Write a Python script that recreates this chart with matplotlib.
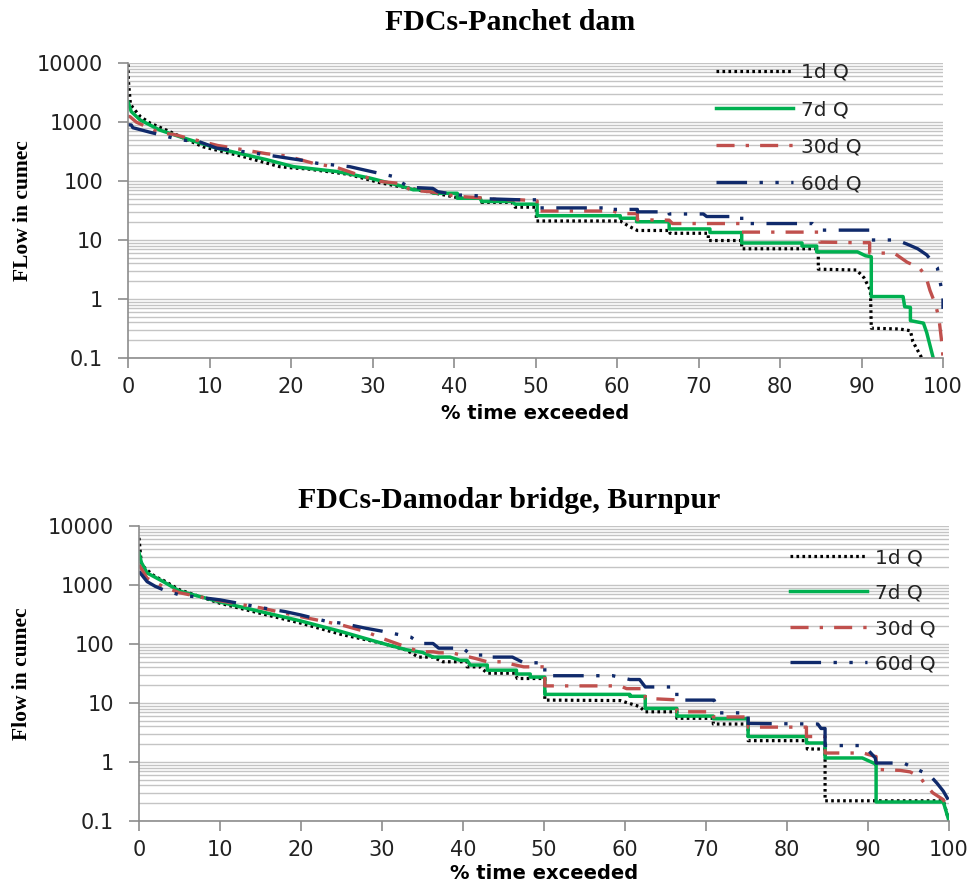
import matplotlib
matplotlib.use('Agg')
import matplotlib.pyplot as plt
from matplotlib import ticker

plt.rcParams['lines.scale_dashes'] = False

# ---------------- data ----------------
series_labels = ['1d Q', '7d Q', '30d Q', '60d Q']
x_ticks = [0, 10, 20, 30, 40, 50, 60, 70, 80, 90, 100]
y_ticks = [0.1, 1, 10, 100, 1000, 10000]
titles = ['FDCs-Panchet dam', 'FDCs-Damodar bridge, Burnpur']
ylabels = ['FLow in cumec', 'Flow in cumec']
xlabel_text = '% time exceeded'

# Panchet dam: (% time exceeded, flow in cumec)
panchet_1d = [(0, 9500), (0.05, 5000), (0.3, 2000), (0.6, 1750), (1.5, 1240), (2.7, 960), (5, 700),
              (7, 520), (9.2, 380), (14.1, 260), (18.6, 175), (20.3, 166), (22, 160), (27, 130),
              (31, 93), (33, 82), (34.6, 75), (37, 65), (40.8, 51), (43.2, 51), (43.4, 43.5),
              (47.1, 43.5), (47.5, 36), (50.1, 36), (50.1, 21), (60.4, 21), (61.5, 17),
              (62.5, 14.5), (66.5, 14.5), (66.5, 13), (71.2, 13), (71.2, 9.8), (75.3, 9.8),
              (75.3, 7.1), (84.7, 7.1), (84.7, 3.2), (89.4, 3.1), (90.3, 2.3), (91.1, 1.4),
              (91.2, 0.32), (94.7, 0.31), (96, 0.29), (96.3, 0.19), (97.4, 0.1)]
panchet_7d = [(0, 2200), (0.4, 1500), (1.5, 1080), (3.9, 730), (6.4, 560), (10.9, 360), (17, 230),
              (20.3, 175), (25.6, 145), (29.7, 112), (33.4, 83), (35, 71), (37, 71), (37.5, 62),
              (40.4, 62), (40.4, 51), (43.2, 51), (43.4, 45), (47.1, 45), (47.5, 40.5),
              (50.2, 40.5), (50.2, 25.8), (60.4, 25.8), (60.4, 23.4), (62.4, 23.4), (62.4, 20.4),
              (66.4, 20.4), (66.4, 15.4), (71.4, 15.4), (71.4, 13.4), (75.3, 13.4), (75.3, 8.9),
              (82.7, 8.9), (82.7, 7.9), (84.5, 7.9), (84.5, 6.3), (89.5, 6.3), (90.5, 5.4),
              (91.2, 5.2), (91.2, 1.1), (95.1, 1.1), (95.3, 0.74), (96, 0.72), (96, 0.43),
              (97.6, 0.39), (98, 0.27), (98.8, 0.1)]
panchet_30d = [(0, 1250), (0.25, 1230), (1, 1000), (3.9, 650), (5.5, 620), (7, 550), (11, 400),
               (12, 380), (17, 290), (19.5, 265), (22.7, 200), (25.6, 170), (28.8, 120), (31, 98),
               (33.7, 90), (34.6, 70), (37, 66), (40.4, 55), (43.2, 52), (45.6, 48), (48.1, 48),
               (50.2, 46), (50.2, 31), (59.5, 31), (60.5, 28), (62.5, 28), (62.5, 22), (66.4, 21.7),
               (66.8, 19), (75.3, 19), (75.3, 13.6), (84.9, 13.6), (84.9, 9.2), (89.8, 9.0),
               (91, 9.0), (91, 6.0), (94, 6.0), (95.6, 4.2), (97.1, 3.4), (97.9, 2.4), (98.4, 1.4),
               (99.1, 0.79), (99.5, 0.47), (99.9, 0.16), (100, 0.1)]
panchet_60d = [(0, 900), (0.4, 890), (0.6, 800), (2.7, 670), (6.4, 500), (8.8, 460), (10.9, 360),
               (15.3, 300), (18.3, 260), (21.3, 225), (23.2, 200), (27.2, 175), (30.3, 140),
               (32.5, 120), (33.5, 95), (34.6, 78), (37.4, 75), (38, 66), (40.4, 58), (43.2, 56),
               (44, 50), (48.1, 48), (50.2, 48), (50.2, 35), (59, 35), (59, 33), (62.5, 33),
               (62.5, 30), (66.4, 30), (66.4, 27.6), (70.6, 27.6), (71, 25), (75.3, 25), (75.3, 19),
               (84, 19), (84.9, 14.7), (91, 14.7), (91, 10), (94.3, 10), (95.6, 8.5), (96.9, 7.1),
               (98, 5.6), (99.3, 3.4), (99.6, 2.1), (100, 1.1), (100, 0.68)]

# Damodar bridge, Burnpur
damodar_1d = [(0, 6300), (0.3, 2200), (1, 1800), (2, 1380), (3, 1200), (5, 830), (10, 490),
              (15, 330), (20, 225), (25, 145), (30, 103), (33, 79), (34.5, 60), (36.3, 60),
              (37.5, 50), (40.5, 50), (40.5, 41), (42.1, 41), (43, 32), (46.4, 32), (46.7, 26),
              (50.1, 26), (50.1, 11.2), (59.4, 11), (61.8, 8.7), (62.5, 7.1), (66.4, 7.1),
              (66.4, 5.5), (70.9, 5.5), (70.9, 4.4), (75.2, 4.4), (75.2, 2.3), (82.5, 2.3),
              (82.5, 1.66), (84.7, 1.66), (84.7, 0.22), (99.3, 0.22), (100, 0.1)]
damodar_7d = [(0, 3500), (0.3, 2400), (1, 1600), (3, 1140), (5, 790), (10, 515), (15, 355),
              (20, 245), (25, 162), (30, 103), (33, 80), (35, 72), (36.3, 60), (38.4, 60),
              (39.6, 53), (40.5, 53), (40.9, 44), (43, 44), (43, 36), (46.6, 36), (46.6, 31),
              (48.3, 31), (48.3, 27.5), (50.1, 27.5), (50.1, 14), (60.6, 14), (60.6, 13),
              (62.5, 13), (62.5, 8.1), (66.4, 8.1), (66.4, 6.0), (70.9, 6.0), (70.9, 5.4),
              (75.2, 5.4), (75.2, 2.7), (82.4, 2.7), (82.4, 2.1), (84.7, 2.1), (84.7, 1.17),
              (89.3, 1.17), (90.9, 0.93), (91, 0.93), (91, 0.21), (99.3, 0.21), (100, 0.1)]
damodar_30d = [(0, 2200), (1, 1300), (3, 940), (5, 740), (8, 610), (10, 540), (15, 410),
               (20, 290), (25, 210), (28, 162), (30, 125), (33, 89), (34.7, 74), (36.3, 74),
               (37, 71), (38.6, 71), (41.5, 57), (43, 50), (44.7, 50), (47.5, 41), (50.1, 41),
               (50.1, 19.5), (59.4, 19.5), (60.2, 17.5), (62.5, 17.5), (62.5, 12), (66.4, 11.3),
               (66.4, 7.1), (70.9, 7.1), (70.9, 5.8), (75.2, 5.8), (75.2, 3.9), (82.4, 3.9),
               (82.4, 2.7), (84.7, 2.7), (84.7, 1.42), (89.4, 1.42), (90.9, 1.24), (91, 1.24),
               (91, 0.75), (94, 0.72), (95.2, 0.68), (96.4, 0.56), (97.1, 0.41), (98, 0.3),
               (99.3, 0.23), (100, 0.15)]
damodar_60d = [(0, 1700), (1, 1140), (2, 950), (3, 830), (5, 680), (7, 630), (10, 560), (13, 470),
               (15, 415), (18, 355), (20, 310), (23, 245), (25, 225), (28, 185), (30, 165),
               (32, 145), (33.6, 130), (34.7, 102), (36.3, 102), (37, 85), (40, 85), (41, 65),
               (43, 65), (43, 60), (46.1, 60), (47.5, 48), (50.1, 48), (50.1, 29), (58.5, 29),
               (60.6, 25), (61.8, 25), (62.5, 18.7), (66.4, 18.7), (66.4, 11.2), (71, 11.2),
               (71.7, 6.8), (75.2, 6.8), (75.2, 4.5), (83.8, 4.4), (84.2, 3.7), (84.7, 3.7),
               (84.7, 1.9), (89.2, 1.9), (90, 1.6), (90.9, 1.17), (91, 0.96), (94.4, 0.96),
               (95.6, 0.8), (97.6, 0.6), (98.5, 0.44), (99.3, 0.32), (99.9, 0.23)]

panels = [
    [panchet_1d, panchet_7d, panchet_30d, panchet_60d],
    [damodar_1d, damodar_7d, damodar_30d, damodar_60d],
]

# ---------------- styles ----------------
styles = [
    dict(color='black', lw=2.3, ls=(0, (1.9, 2.4)), dash_capstyle='butt'),
    dict(color='#00B050', lw=2.5, ls='-'),
    dict(color='#C0504D', lw=2.4, ls=(0, (13, 8, 2.4, 8)), dash_capstyle='butt'),
    dict(color='#102A6B', lw=2.4, ls=(0, (22, 9, 2.4, 9, 2.4, 9)), dash_capstyle='butt'),
]

W, H = 974, 883
fig = plt.figure(figsize=(W / 100, H / 100), dpi=100)

# axes rectangles in pixels: left, right, top, bottom
rects = [(128, 943, 63, 358), (139, 949, 526, 821)]
title_pos = [(510, 22), (509, 501)]
legend_pos = [(716, 63), (790, 548)]
legend_spacing = [0.9, 0.82]
ylabel_right = [33, 32]
xlabel_top = [404, 864]

for i, (l, r, t, b) in enumerate(rects):
    ax = fig.add_axes([l / W, 1 - b / H, (r - l) / W, (b - t) / H])
    for s, lab, st in zip(panels[i], series_labels, styles):
        xs = [p[0] for p in s]
        ys = [p[1] for p in s]
        ax.plot(xs, ys, label=lab, **st)
    ax.set_yscale('log')
    ax.set_xlim(0, 100)
    ax.set_ylim(0.1, 10000)
    ax.set_xticks(x_ticks)
    ax.yaxis.set_major_locator(ticker.FixedLocator(y_ticks))
    ax.yaxis.set_major_formatter(ticker.FuncFormatter(lambda v, _: f'{v:g}'))
    ax.yaxis.set_minor_locator(ticker.LogLocator(base=10, subs=[2, 3, 4, 5, 6, 7, 8, 9], numticks=20))
    ax.yaxis.set_minor_formatter(ticker.NullFormatter())
    ax.yaxis.grid(True, which='both', color='#c4c4c4', lw=1.0)
    ax.xaxis.grid(False)
    ax.set_axisbelow(True)
    for sp in ['top', 'right']:
        ax.spines[sp].set_visible(False)
    for sp in ['left', 'bottom']:
        ax.spines[sp].set_color('#8c8c8c')
        ax.spines[sp].set_linewidth(1.2)
    ax.tick_params(axis='both', which='major', direction='out', color='#8c8c8c', width=1.2,
                   labelsize=15, colors='#8c8c8c', labelcolor='#222222')
    ax.tick_params(axis='y', which='major', length=7, pad=11)
    ax.tick_params(axis='x', which='major', length=7, pad=7)
    ax.tick_params(axis='y', which='minor', length=0)
    for lbl in ax.get_xticklabels() + ax.get_yticklabels():
        lbl.set_fontfamily('DejaVu Sans')

    ax.set_ylabel(ylabels[i], family='Liberation Serif', fontweight='bold', fontsize=15.5)
    ax.yaxis.set_label_coords((ylabel_right[i] - l) / (r - l), 0.5)
    ax.set_xlabel(xlabel_text, family='DejaVu Sans', fontweight='bold', fontsize=14)
    ax.xaxis.set_label_coords(0.5, (b - xlabel_top[i]) / (b - t))

    fig.text(title_pos[i][0] / W, 1 - title_pos[i][1] / H, titles[i], ha='center', va='center',
             family='Liberation Serif', fontweight='bold', fontsize=21.5)

    lx, ly = legend_pos[i]
    leg = ax.legend(loc='upper left', bbox_to_anchor=(lx / W, 1 - ly / H),
                    bbox_transform=fig.transFigure, frameon=False, fontsize=14.5,
                    handlelength=3.8, handletextpad=0.4, labelspacing=legend_spacing[i],
                    borderpad=0, borderaxespad=0)
    for txt in leg.get_texts():
        txt.set_color('#222222')

fig.savefig('out.png', dpi=100)
